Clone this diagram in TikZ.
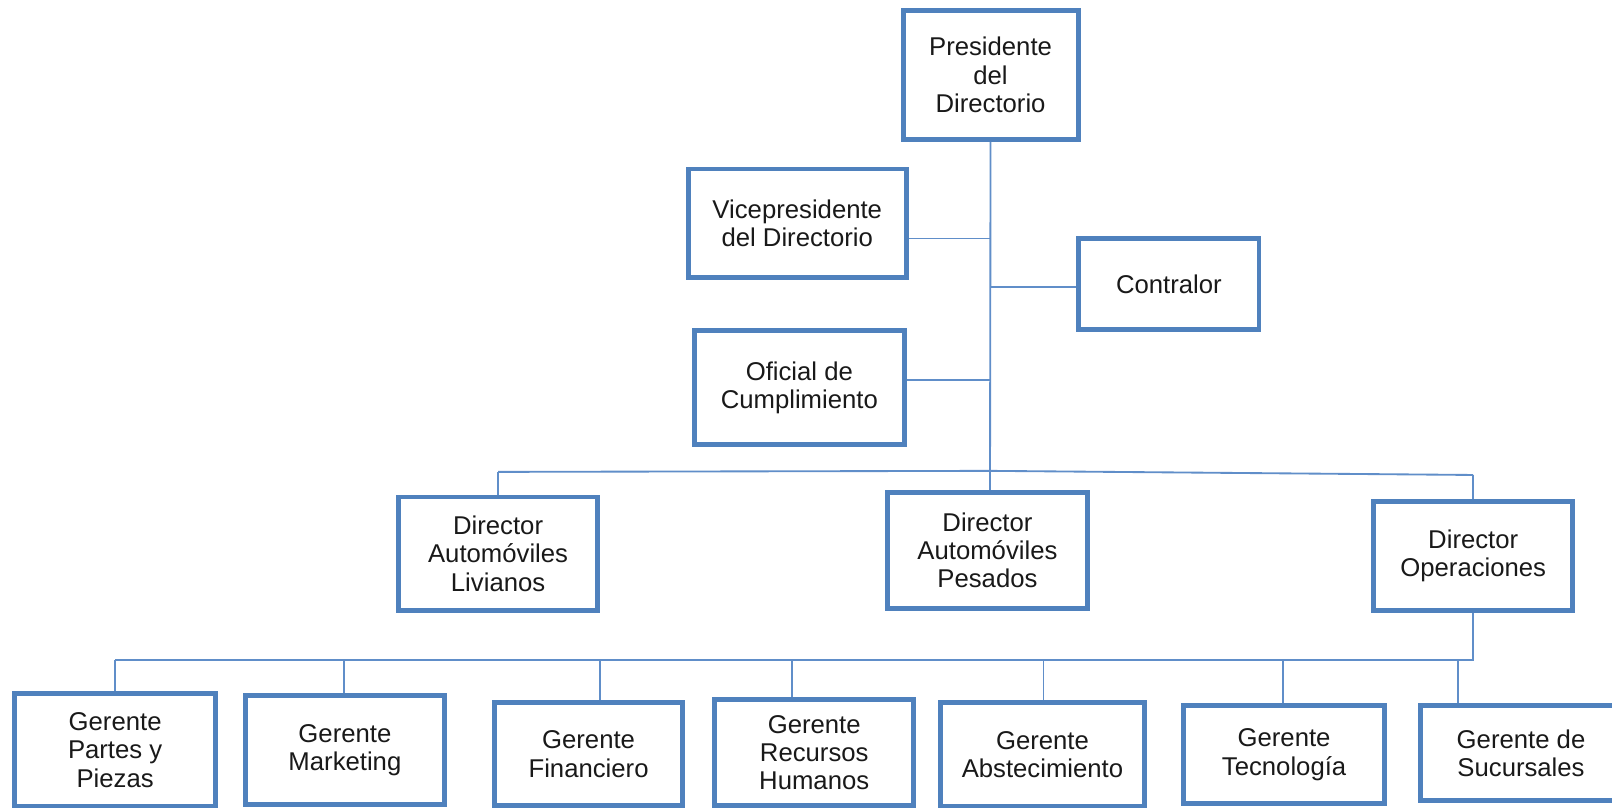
\documentclass[tikz,border=0pt]{standalone}
\usepackage{fontspec}
\setmainfont{Liberation Sans}
\definecolor{boxblue}{RGB}{79,129,189}
\definecolor{linkblue}{RGB}{96,142,201}
\definecolor{ink}{RGB}{25,25,25}
\begin{document}
\begin{tikzpicture}[x=1pt,y=-1pt,
  box/.style={draw=boxblue, line width=4.8pt, fill=white, inner sep=0pt,
    align=center, text=ink, font=\fontsize{25}{27.5}\selectfont},
  link/.style={draw=linkblue, line width=1.8pt}]
\fill[white] (0,0) rectangle (1568,785);
\useasboundingbox (0,0) rectangle (1568,785);
\clip (0,0) rectangle (1568,785);

% top level
\node[box, minimum width=170.2pt, minimum height=125.2pt] (pres) at (963.5,73) {Presidente\\del\\Directorio};
\node[box, minimum width=212.2pt, minimum height=105.2pt] (vice) at (775.5,217) {Vicepresidente\\del Directorio};
\node[box, minimum width=175.2pt, minimum height=88.2pt] (contr) at (1137,276.5) {Contralor};
\node[box, minimum width=204.2pt, minimum height=111.2pt] (ofic) at (777.5,377) {Oficial de\\Cumplimiento};

% directors
\node[box, minimum width=194.2pt, minimum height=110.2pt] (dliv) at (484.5,538.5) {Director\\Automóviles\\Livianos};
\node[box, minimum width=194.2pt, minimum height=112.2pt] (dpes) at (960.5,535.5) {Director\\Automóviles\\Pesados};
\node[box, minimum width=193.2pt, minimum height=106.2pt] (dope) at (1433,540.5) {Director\\Operaciones};

% managers
\node[box, minimum width=195.2pt, minimum height=110.2pt] (g1) at (112,729.5) {Gerente\\Partes y\\Piezas};
\node[box, minimum width=194.2pt, minimum height=106.2pt] (g2) at (335.5,729.5) {Gerente\\Marketing};
\node[box, minimum width=182.2pt, minimum height=100.2pt] (g3) at (572.5,733.5) {Gerente\\Financiero};
\node[box, minimum width=193.2pt, minimum height=103.2pt] (g4) at (792,732) {Gerente\\Recursos\\Humanos};
\node[box, minimum width=199.2pt, minimum height=101.2pt] (g5) at (1014,734) {Gerente\\Abstecimiento};
\node[box, minimum width=195.2pt, minimum height=95.2pt] (g6) at (1249,734) {Gerente\\Tecnología};
\node[box, minimum width=196.2pt, minimum height=92.2pt] (g7) at (1479.5,732.5) {Gerente de\\Sucursales};

% junction points
\coordinate (spine) at (963,458);
\coordinate (jv) at (963,232);
\coordinate (jc) at (963,279);
\coordinate (jo) at (963,370);
\coordinate (tl) at (484.5,459);
\coordinate (tr) at (1433,462);
\coordinate (bus) at (1433,642);
\coordinate (b1) at (112,642);
\coordinate (b2) at (335,642);
\coordinate (b3) at (584,642);
\coordinate (b4) at (770,642);
\coordinate (b5) at (1015,642);
\coordinate (b6) at (1248,642);
\coordinate (b7) at (1418,642);

% connectors
\draw[link] (pres.south) -- (spine);
\draw[link] (jv) -- (jv -| vice.east);
\draw[link] (jc) -- (jc -| contr.west);
\draw[link] (jo) -- (jo -| ofic.east);
\draw[link] (tl) -- (spine) -- (tr);
\draw[link] (tl) -- (dliv.north);
\draw[link] (spine) -- (spine |- dpes.north);
\draw[link] (tr) -- (dope.north);
\draw[link] (dope.south) -- (bus) -- (b1);
\draw[link] (b1) -- (g1.north);
\draw[link] (b2) -- (b2 |- g2.north);
\draw[link] (b3) -- (b3 |- g3.north);
\draw[link] (b4) -- (b4 |- g4.north);
\draw[link] (b5) -- (b5 |- g5.north);
\draw[link] (b6) -- (b6 |- g6.north);
\draw[link] (b7) -- (b7 |- g7.north);
\end{tikzpicture}
\end{document}
